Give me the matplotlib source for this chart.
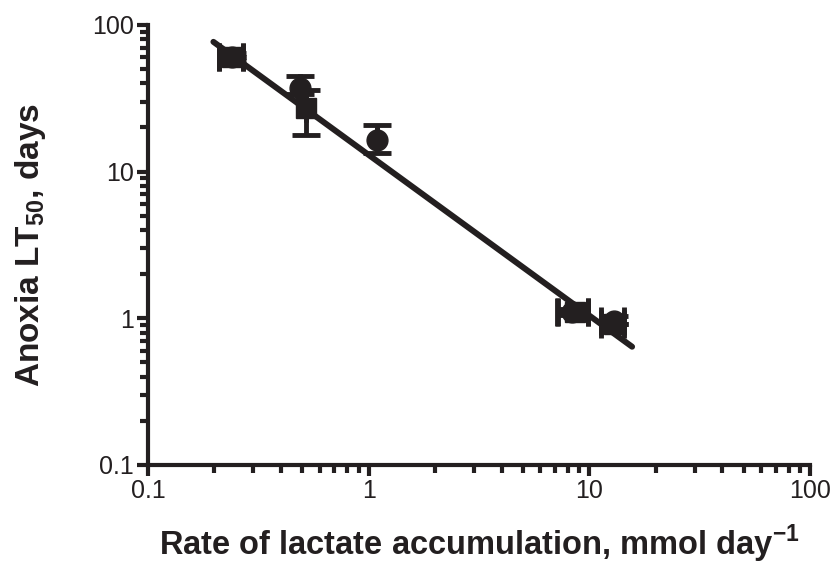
import matplotlib
matplotlib.use("Agg")
import matplotlib.pyplot as plt
from matplotlib.ticker import LogLocator, FixedLocator, NullFormatter

plt.rcParams['font.family'] = ['Liberation Sans', 'DejaVu Sans']
plt.rcParams['mathtext.fontset'] = 'custom'
plt.rcParams['mathtext.rm'] = 'Liberation Sans'
plt.rcParams['mathtext.bf'] = 'Liberation Sans:bold'

ink = '#231f20'

# circles: x, y, y-error (low, high)
circ_x = [0.24, 0.49, 1.09, 8.3, 12.9]
circ_y = [60, 37, 16.4, 1.1, 0.96]
circ_ylo = [3, 3, 3.0, 0.05, 0.05]
circ_yhi = [4, 8, 4.4, 0.05, 0.08]
circ_xlo = [0.03, 0.0, 0.0, 1.2, 1.6]
circ_xhi = [0.03, 0.0, 0.0, 1.6, 1.5]

# squares
sq_x = [0.24, 0.52, 8.6, 12.9]
sq_y = [60, 27, 1.1, 0.92]
sq_ylo = [0, 9.3, 0, 0]
sq_yhi = [0, 9, 0, 0]
sq_xlo = [0.03, 0, 1.4, 1.6]
sq_xhi = [0.03, 0, 1.3, 1.5]

# regression line end points
fit_x = [0.198, 15.6]
fit_y = [76.6, 0.64]

fig = plt.figure(figsize=(8.31, 5.65), dpi=100)
ax = fig.add_axes([0.178, 0.177, 0.797, 0.779])

ax.plot(fit_x, fit_y, color=ink, lw=4.3, solid_capstyle='round', zorder=2)

ax.errorbar(circ_x, circ_y, yerr=[circ_ylo, circ_yhi], xerr=[circ_xlo, circ_xhi],
            fmt='o', ms=15, color=ink, ecolor=ink, elinewidth=3.5,
            capsize=10, capthick=3.5, zorder=3)
ax.errorbar(sq_x, sq_y, yerr=[sq_ylo, sq_yhi], xerr=[sq_xlo, sq_xhi],
            fmt='s', ms=14, color=ink, ecolor=ink, elinewidth=3.5,
            capsize=10, capthick=3.5, zorder=3)

ax.set_xscale('log')
ax.set_yscale('log')
ax.set_xlim(0.1, 100)
ax.set_ylim(0.1, 100)

ax.xaxis.set_major_locator(FixedLocator([0.1, 1, 10, 100]))
ax.yaxis.set_major_locator(FixedLocator([0.1, 1, 10, 100]))
ax.xaxis.set_minor_locator(LogLocator(base=10, subs=range(2, 10)))
ax.yaxis.set_minor_locator(LogLocator(base=10, subs=range(2, 10)))
ax.xaxis.set_minor_formatter(NullFormatter())
ax.yaxis.set_minor_formatter(NullFormatter())
ax.set_xticklabels(['0.1', '1', '10', '100'])
ax.set_yticklabels(['0.1', '1', '10', '100'])

for s in ['top', 'right']:
    ax.spines[s].set_visible(False)
for s in ['left', 'bottom']:
    ax.spines[s].set_linewidth(3)
    ax.spines[s].set_color(ink)

ax.tick_params(which='major', length=8, width=3, color=ink, labelsize=18,
               labelcolor=ink, pad=2)
ax.tick_params(which='minor', length=6, width=3, color=ink)

ax.set_xlabel('Rate of lactate accumulation, mmol day$^{\\mathbf{-1}}$',
              fontsize=23.5, fontweight='bold', color=ink, labelpad=14)
ax.set_ylabel('Anoxia LT$_{\\mathbf{50}}$, days',
              fontsize=24, fontweight='bold', color=ink, labelpad=32)

fig.savefig('out.png', dpi=100)
